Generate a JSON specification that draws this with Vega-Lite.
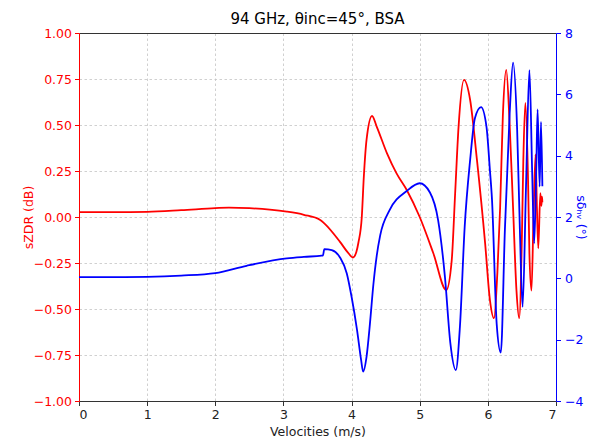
{
  "$schema": "https://vega.github.io/schema/vega-lite/v6.json",
  "autosize": "none",
  "width": 477,
  "height": 368,
  "padding": {"left": 79, "top": 33, "right": 33, "bottom": 43},
  "background": "white",
  "title": {"text": "94 GHz, θinc=45°, BSA", "fontSize": 15, "font": "DejaVu Sans", "fontWeight": "normal", "color": "#000000", "offset": 0},
  "config": {
    "font": "DejaVu Sans",
    "view": {"stroke": null},
    "axis": {
      "labelFont": "DejaVu Sans", "titleFont": "DejaVu Sans",
      "labelFontSize": 12.5, "titleFontSize": 12.5, "titleFontWeight": "normal",
      "tickSize": 4.5, "labelPadding": 3, "domainWidth": 1, "tickWidth": 1,
      "gridDash": [2.5, 2.5], "gridColor": "#c4c4c4", "gridWidth": 0.8
    }
  },
  "datasets": {
    "zdr": [
      {"v": 0.0, "zdr": 0.026}, {"v": 0.5, "zdr": 0.026}, {"v": 1.0, "zdr": 0.028}, {"v": 1.5, "zdr": 0.037},
      {"v": 2.0, "zdr": 0.048}, {"v": 2.2, "zdr": 0.051}, {"v": 2.5, "zdr": 0.048}, {"v": 2.8, "zdr": 0.040},
      {"v": 3.05, "zdr": 0.029}, {"v": 3.3, "zdr": 0.012}, {"v": 3.54, "zdr": -0.016}, {"v": 3.6, "zdr": -0.035},
      {"v": 3.83, "zdr": -0.135}, {"v": 3.95, "zdr": -0.195}, {"v": 4.02, "zdr": -0.22}, {"v": 4.07, "zdr": -0.19},
      {"v": 4.1, "zdr": -0.14}, {"v": 4.15, "zdr": 0.0}, {"v": 4.18, "zdr": 0.22}, {"v": 4.22, "zdr": 0.42},
      {"v": 4.3, "zdr": 0.549}, {"v": 4.37, "zdr": 0.49}, {"v": 4.52, "zdr": 0.346}, {"v": 4.66, "zdr": 0.237},
      {"v": 4.81, "zdr": 0.147}, {"v": 5.0, "zdr": 0.0}, {"v": 5.2, "zdr": -0.197}, {"v": 5.39, "zdr": -0.397},
      {"v": 5.47, "zdr": -0.234}, {"v": 5.52, "zdr": 0.129}, {"v": 5.57, "zdr": 0.49}, {"v": 5.65, "zdr": 0.745},
      {"v": 5.74, "zdr": 0.636}, {"v": 5.84, "zdr": 0.31}, {"v": 5.96, "zdr": -0.143}, {"v": 6.03, "zdr": -0.45},
      {"v": 6.09, "zdr": -0.55}, {"v": 6.14, "zdr": -0.3}, {"v": 6.18, "zdr": 0.05}, {"v": 6.22, "zdr": 0.55},
      {"v": 6.27, "zdr": 0.8}, {"v": 6.32, "zdr": 0.5}, {"v": 6.37, "zdr": 0.05}, {"v": 6.42, "zdr": -0.4},
      {"v": 6.46, "zdr": -0.55}, {"v": 6.5, "zdr": -0.1}, {"v": 6.52, "zdr": 0.3}, {"v": 6.55, "zdr": 0.62},
      {"v": 6.59, "zdr": 0.2}, {"v": 6.61, "zdr": -0.2}, {"v": 6.64, "zdr": -0.4}, {"v": 6.67, "zdr": 0.0},
      {"v": 6.7, "zdr": 0.34}, {"v": 6.72, "zdr": 0.05}, {"v": 6.74, "zdr": -0.17}, {"v": 6.77, "zdr": 0.13},
      {"v": 6.785, "zdr": 0.06}, {"v": 6.795, "zdr": 0.11}, {"v": 6.8, "zdr": 0.08}
    ],
    "dhv": [
      {"v": 0.0, "dhv": 0.04}, {"v": 0.5, "dhv": 0.04}, {"v": 1.0, "dhv": 0.05}, {"v": 1.5, "dhv": 0.09},
      {"v": 2.0, "dhv": 0.17}, {"v": 2.46, "dhv": 0.41}, {"v": 3.05, "dhv": 0.65}, {"v": 3.3, "dhv": 0.7},
      {"v": 3.56, "dhv": 0.74}, {"v": 3.58, "dhv": 0.75}, {"v": 3.6, "dhv": 0.95}, {"v": 3.71, "dhv": 0.92},
      {"v": 3.83, "dhv": 0.68}, {"v": 3.93, "dhv": 0.16}, {"v": 4.0, "dhv": -0.6}, {"v": 4.08, "dhv": -1.68},
      {"v": 4.14, "dhv": -2.66}, {"v": 4.17, "dhv": -3.04}, {"v": 4.22, "dhv": -2.55}, {"v": 4.27, "dhv": -1.47},
      {"v": 4.32, "dhv": -0.2}, {"v": 4.37, "dhv": 0.75}, {"v": 4.42, "dhv": 1.4}, {"v": 4.56, "dhv": 2.23},
      {"v": 4.81, "dhv": 2.85}, {"v": 5.0, "dhv": 3.1}, {"v": 5.15, "dhv": 2.8}, {"v": 5.27, "dhv": 1.9},
      {"v": 5.37, "dhv": 0.05}, {"v": 5.45, "dhv": -2.12}, {"v": 5.53, "dhv": -2.99}, {"v": 5.59, "dhv": -1.58},
      {"v": 5.66, "dhv": 1.68}, {"v": 5.74, "dhv": 3.86}, {"v": 5.81, "dhv": 5.22}, {"v": 5.9, "dhv": 5.58},
      {"v": 5.98, "dhv": 4.94}, {"v": 6.03, "dhv": 3.53}, {"v": 6.06, "dhv": 2.6}, {"v": 6.13, "dhv": -1.5},
      {"v": 6.19, "dhv": -2.42}, {"v": 6.25, "dhv": 1.58}, {"v": 6.32, "dhv": 5.38}, {"v": 6.37, "dhv": 7.03},
      {"v": 6.43, "dhv": 4.84}, {"v": 6.47, "dhv": 1.58}, {"v": 6.51, "dhv": -0.93}, {"v": 6.56, "dhv": 3.0},
      {"v": 6.61, "dhv": 6.79}, {"v": 6.65, "dhv": 3.5}, {"v": 6.68, "dhv": 1.14}, {"v": 6.71, "dhv": 3.5},
      {"v": 6.73, "dhv": 5.51}, {"v": 6.76, "dhv": 2.99}, {"v": 6.78, "dhv": 5.1}, {"v": 6.8, "dhv": 3.0}
    ]
  },
  "layer": [
    {
      "data": {"name": "zdr"},
      "mark": {"type": "line", "color": "#ff0000", "strokeWidth": 1.8, "interpolate": "monotone", "clip": true},
      "encoding": {
        "x": {"field": "v", "type": "quantitative", "scale": {"domain": [0, 7], "nice": false},
              "axis": {"title": "Velocities (m/s)", "values": [0, 1, 2, 3, 4, 5, 6, 7], "format": "d", "grid": true,
                       "domainColor": "#333333", "tickColor": "#333333", "labelColor": "#222222", "titleColor": "#222222", "titlePadding": 4}},
        "y": {"field": "zdr", "type": "quantitative", "scale": {"domain": [-1, 1], "nice": false},
              "axis": {"title": "sZDR (dB)", "values": [-1, -0.75, -0.5, -0.25, 0, 0.25, 0.5, 0.75, 1], "format": ".2f", "grid": true,
                       "domainColor": "#ff0000", "tickColor": "#ff0000", "labelColor": "#ff0000", "titleColor": "#ff0000", "titlePadding": -2}}
      }
    },
    {
      "data": {"name": "dhv"},
      "mark": {"type": "line", "color": "#0000ff", "strokeWidth": 1.8, "interpolate": "monotone", "clip": true},
      "encoding": {
        "x": {"field": "v", "type": "quantitative", "scale": {"domain": [0, 7], "nice": false},
              "axis": {"orient": "top", "title": null, "labels": false, "ticks": false, "grid": false, "domainColor": "#333333"}},
        "y": {"field": "dhv", "type": "quantitative", "scale": {"domain": [-4, 8], "nice": false},
              "axis": {"orient": "right", "title": "sδₕᵥ (°)", "values": [-4, -2, 0, 2, 4, 6, 8], "format": "d", "grid": false, "labelPadding": 4,
                       "domainColor": "#0000ff", "tickColor": "#0000ff", "labelColor": "#0000ff", "titleColor": "#0000ff", "titlePadding": -9}}
      }
    }
  ],
  "resolve": {"scale": {"y": "independent"}, "axis": {"x": "independent"}}
}
